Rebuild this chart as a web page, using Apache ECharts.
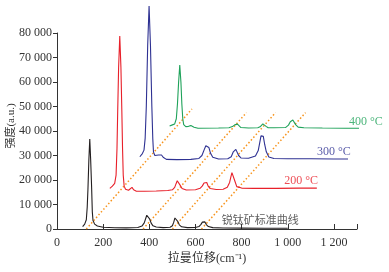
<!DOCTYPE html>
<html>
<head>
<meta charset="utf-8">
<script src="https://cdn.jsdelivr.net/npm/echarts@6/dist/echarts.min.js"></script>
<style>html,body{margin:0;padding:0;background:#fff;}#c{width:389px;height:272px;}</style>
</head>
<body>
<div id="c"></div>
<script>
// Raman shift (cm-1) and intensity (a.u.); each curve is offset as in the original
const stdX = [111,120,127,131,134,138,142,146,150,153,156,163,175,200,250,300,350,368,378,384,389,393,397,402,408,416,430,460,490,500,506,511,515,519,524,530,540,565,600,615,624,630,636,641,647,656,675,720,800,900,1000];
const stdY = [1000,2000,3800,9000,16000,28000,36700,28000,17000,7000,3500,2000,1200,700,500,450,600,1200,2500,4200,5600,6100,5600,4000,2400,1300,800,550,700,1300,2800,4500,5300,4600,3000,1700,900,550,600,1000,1900,2800,3300,2900,1800,1000,550,400,350,300,300];

const t200X = [229,240,250,256,260,263,267,272,277,281,284,287,291,297,303,310,318,325,332,344,380,430,480,500,510,516,521,525,529,534,542,560,600,620,630,637,642,645,649,655,664,690,720,738,748,754,758,761,765,771,779,800,850,950,1050,1126];
const t200Y = [16600,17500,18600,22000,33000,48000,66000,78800,66000,48000,33000,22000,17500,16200,15900,15800,16600,17000,16000,15400,15400,15500,15700,16000,17000,18500,19700,20000,19500,17800,16500,15900,16000,16600,17600,18800,19500,19600,19000,17500,16500,16100,16200,17000,19000,21500,23000,23400,22500,19500,17300,16700,16600,16600,16700,16700];

const t300X = [359,370,377,382,387,393,399,405,411,415,418,424,431,440,447,453,460,474,520,580,615,628,638,645,652,658,665,675,700,740,755,764,770,775,780,787,797,830,860,872,879,884,889,894,900,907,918,940,1000,1100,1200,1261];
const t300Y = [29500,30800,32200,37000,50000,75000,91000,75000,50000,37000,31500,30000,29800,30200,30500,30200,29300,28400,28300,28400,28800,30000,32400,34000,34500,33300,31000,29300,28600,28700,29500,31500,32300,32500,31800,30000,29000,28900,29800,32000,35500,38000,38800,37800,34500,31500,29400,28800,28700,28700,28600,28600];

const t400X = [488,500,510,517,522,527,532,537,541,545,549,558,570,580,586,594,611,700,745,760,770,774,778,782,788,797,830,870,880,887,892,896,900,906,915,940,990,1003,1011,1017,1022,1027,1034,1045,1070,1150,1250,1391];
const t400Y = [42000,42500,42900,45000,51000,60000,66900,60000,51000,45000,42600,41800,41900,42200,42000,41500,41100,41200,41300,41800,42500,42900,43000,42800,42000,41400,41200,41300,41700,42400,42900,43000,42700,41900,41300,41300,41400,42400,43800,44400,44500,44000,42600,41600,41300,41200,41100,41100];

// dotted guide lines linking corresponding peaks (start / end points)
const guideX = [[127,585],[373,821],[500,947],[626,1077]];
const guideY = [[0,49000],[0,47500],[0,47500],[0,47500]];

const xTickValues = [200,400,600,800,1000,1200,1300];
const xLabelValues = [0,200,400,600,800,1000,1200];

const curveNames = ['锐钛矿标准曲线','200 °C','300 °C','400 °C'];
const xName = '拉曼位移(cm⁻¹)';
const yName = '强度(a.u.)';
</script>
<script>
const FONT = "'Liberation Serif','Noto Sans CJK SC',serif";
const colors = ['#231f20','#e8202a','#2e3192','#1fa25a'];
const orange = '#f7941d';
const pairs = (xs, ys) => xs.map((x, i) => [x, ys[i]]);
const fmt = v => String(v).replace(/\B(?=(\d{3})+(?!\d))/g, ' ');

const curves = [[stdX, stdY],[t200X, t200Y],[t300X, t300Y],[t400X, t400Y]];
// text anchor points for curve names (data coords) and alignment
const labelAt = [
  {pos:[714, 3670], align:'left', font:"'Noto Sans CJK SC',sans-serif", size:11},
  {pos:[1131, 19600], align:'right', font:FONT, size:12},
  {pos:[1273, 31550], align:'right', font:FONT, size:12},
  {pos:[1412, 43800], align:'right', font:FONT, size:12}
];

const series = [];
guideX.forEach((gx, i) => {
  series.push({
    type:'line', data: pairs(gx, guideY[i]), showSymbol:false, clip:false, silent:true,
    lineStyle:{color:orange, width:1.5, type:[1.5,2.2]}, z:1
  });
});
curves.forEach((c, i) => {
  series.push({
    type:'line', data: pairs(c[0], c[1]), showSymbol:false, clip:false, silent:true,
    lineStyle:{color:colors[i], width:1.1}, z:2
  });
});
curveNames.forEach((n, i) => {
  const la = labelAt[i];
  series.push({
    type:'scatter', symbolSize:0, clip:false, silent:true,
    data:[{value: la.pos, name: n}],
    label:{show:true, position:[0,0], formatter: n, align: la.align, verticalAlign:'middle',
      color: i === 0 ? '#333' : colors[i], fontFamily: la.font, fontSize: la.size}
  });
});

const chart = echarts.init(document.getElementById('c'), null, {renderer:'canvas'});
chart.setOption({
  animation:false,
  backgroundColor:'#fff',
  grid:{left:57, right:32, top:33, bottom:43, containLabel:false, outerBoundsMode:'none'},
  xAxis:{
    type:'value', min:0, max:1300, interval:100,
    name: xName, nameLocation:'middle', nameGap:24, nameMoveOverlap:false,
    nameTextStyle:{color:'#333', fontSize:12, fontFamily:FONT},
    axisLine:{show:true, lineStyle:{color:'#333', width:1}},
    axisTick:{show:true, inside:true, length:5, customValues:xTickValues, lineStyle:{color:'#333'}},
    axisLabel:{customValues:xLabelValues, formatter: v => fmt(v), margin:8, color:'#333', fontSize:12, fontFamily:FONT},
    splitLine:{show:false}
  },
  yAxis:{
    type:'value', min:0, max:80000, interval:10000,
    name: yName, nameLocation:'middle', nameGap:40, nameRotate:90, nameMoveOverlap:false,
    nameTextStyle:{color:'#333', fontSize:11, fontFamily:FONT, padding:[0,0,0,10]},
    axisLine:{show:true, lineStyle:{color:'#333', width:1}},
    axisTick:{show:true, inside:false, length:4, lineStyle:{color:'#333'}},
    axisLabel:{formatter: v => fmt(v), margin:5, color:'#333', fontSize:12, fontFamily:FONT},
    splitLine:{show:false}
  },
  series: series
});
</script>
</body>
</html>
